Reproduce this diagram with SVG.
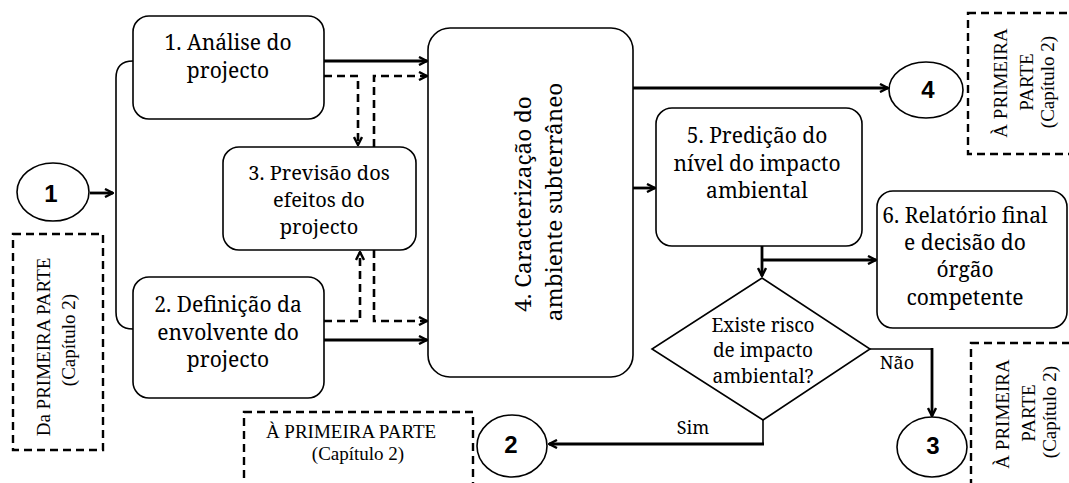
<svg xmlns="http://www.w3.org/2000/svg" width="1069" height="483" viewBox="0 0 1069 483">
<style>
.box{fill:#fff;stroke:#000;stroke-width:1.6}
.lb{font-family:"Noto Serif","DejaVu Serif",serif;font-size:21px;text-anchor:middle;fill:#000}
.sm{font-family:"Liberation Serif","Times New Roman",serif;font-size:19px;text-anchor:middle;fill:#000}
.num{font-family:"Liberation Sans",Arial,sans-serif;font-weight:bold;font-size:24px;text-anchor:middle;fill:#000}
.solid{fill:none;stroke:#000;stroke-width:2.8}
.thin{fill:none;stroke:#000;stroke-width:1.6}
.dash{fill:none;stroke:#000;stroke-width:2.6;stroke-dasharray:8 5}
.dbox{fill:none;stroke:#000;stroke-width:2.4;stroke-dasharray:8 5}
</style>
<defs>
<marker id="ah" viewBox="0 0 10 10" refX="9" refY="5" markerWidth="10" markerHeight="10" markerUnits="userSpaceOnUse" orient="auto">
<path d="M1,1 L9,5 L1,9" fill="none" stroke="#000" stroke-width="2.4"/>
</marker>
</defs>

<g id="connectors">
<path class="thin" d="M133,61 Q116,61 116,78 L116,312 Q116,329 133,329"/>
<path class="solid" d="M90,193 L113,193" marker-end="url(#ah)"/>
<path class="solid" d="M324,61 L427,61" marker-end="url(#ah)"/>
<path class="dash" d="M324,76 L358,76 L358,145" marker-end="url(#ah)"/>
<path class="dash" d="M374,147 L374,76 L427,76" marker-end="url(#ah)"/>
<path class="dash" d="M324,321 L360,321 L360,252" marker-end="url(#ah)"/>
<path class="dash" d="M374,250 L374,321 L427,321" marker-end="url(#ah)"/>
<path class="solid" d="M324,340 L427,340" marker-end="url(#ah)"/>
<path class="solid" d="M633,88 L888,88" marker-end="url(#ah)"/>
<path class="solid" d="M633,188 L655,188" marker-end="url(#ah)"/>
<path class="solid" d="M762,246 L762,276" marker-end="url(#ah)"/>
<path class="solid" d="M762,260 L876,260" marker-end="url(#ah)"/>
<path class="thin" d="M870,349 L932,349"/>
<path class="solid" d="M932,348 L932,416" marker-end="url(#ah)"/>
<path class="thin" d="M763,420 L763,444"/>
<path class="solid" d="M764,444 L549,444" marker-end="url(#ah)"/>
<text class="lb" x="897" y="369" style="font-size:18px">Não</text>
<text class="lb" x="693" y="434" style="font-size:18px">Sim</text>
</g>

<g id="n1">
<rect class="box" x="133" y="16" width="191" height="103" rx="16"/>
<text class="lb" x="228" y="50">1. Análise do</text>
<text class="lb" x="228" y="78">projecto</text>
</g>
<g id="n3">
<rect class="box" x="223" y="147" width="193" height="103" rx="16"/>
<text class="lb" style="font-size:20px" x="319" y="180">3. Previsão dos</text>
<text class="lb" style="font-size:20px" x="319" y="207">efeitos do</text>
<text class="lb" style="font-size:20px" x="319" y="234">projecto</text>
</g>
<g id="n2">
<rect class="box" x="133" y="277" width="191" height="121" rx="16"/>
<text class="lb" x="228" y="312">2. Definição da</text>
<text class="lb" x="228" y="340">envolvente do</text>
<text class="lb" x="228" y="367">projecto</text>
</g>
<g id="n4">
<rect class="box" x="428" y="28" width="205" height="349" rx="22"/>
<text class="lb" style="font-size:22.5px" transform="translate(531,204) rotate(-90)">4. Caracterização do</text>
<text class="lb" style="font-size:22.5px" transform="translate(562,202) rotate(-90)">ambiente subterrâneo</text>
</g>
<g id="n5">
<rect class="box" x="656" y="108" width="206" height="138" rx="16"/>
<text class="lb" x="757" y="143">5. Predição do</text>
<text class="lb" x="757" y="171">nível do impacto</text>
<text class="lb" x="757" y="198">ambiental</text>
</g>
<g id="n6">
<rect class="box" x="877" y="191" width="190" height="137" rx="16"/>
<text class="lb" x="965" y="223">6. Relatório final</text>
<text class="lb" x="965" y="250">e decisão do</text>
<text class="lb" x="965" y="277">órgão</text>
<text class="lb" x="965" y="305">competente</text>
</g>
<g id="decision">
<polygon class="box" points="762,278 870,349 763,420 652,349"/>
<text class="lb" style="font-size:19px" x="763" y="332">Existe risco</text>
<text class="lb" style="font-size:19px" x="763" y="357">de impacto</text>
<text class="lb" style="font-size:19px" x="763" y="383">ambiental?</text>
</g>
<g id="c1">
<ellipse class="box" cx="53" cy="192" rx="36" ry="29"/>
<text class="num" x="51" y="202">1</text>
</g>
<g id="c4">
<ellipse class="box" cx="926" cy="90" rx="37" ry="28"/>
<text class="num" x="928" y="98">4</text>
</g>
<g id="c3">
<ellipse class="box" cx="932" cy="447" rx="35" ry="30"/>
<text class="num" x="933" y="454">3</text>
</g>
<g id="c2">
<ellipse class="box" cx="512" cy="446" rx="35" ry="31"/>
<text class="num" x="511" y="453">2</text>
</g>
<g id="ref-left">
<rect class="dbox" x="13" y="234" width="90" height="216"/>
<text class="sm" transform="translate(50,347) rotate(-90)">Da PRIMEIRA PARTE</text>
<text class="sm" transform="translate(75,340) rotate(-90)">(Capítulo 2)</text>
</g>
<g id="ref-topright">
<rect class="dbox" x="968" y="13" width="120" height="141"/>
<text class="sm" transform="translate(1007,83) rotate(-90)">À PRIMEIRA</text>
<text class="sm" transform="translate(1033,82) rotate(-90)">PARTE</text>
<text class="sm" transform="translate(1054,82) rotate(-90)">(Capítulo 2)</text>
</g>
<g id="ref-bottomright">
<rect class="dbox" x="971" y="343" width="120" height="160"/>
<text class="sm" transform="translate(1009,414) rotate(-90)">À PRIMEIRA</text>
<text class="sm" transform="translate(1035,413) rotate(-90)">PARTE</text>
<text class="sm" transform="translate(1056,412) rotate(-90)">(Capítulo 2)</text>
</g>
<g id="ref-bottomleft">
<rect class="dbox" x="244" y="412" width="229" height="90"/>
<text class="sm" x="351" y="438">À PRIMEIRA PARTE</text>
<text class="sm" x="358" y="460">(Capítulo 2)</text>
</g>
</svg>
